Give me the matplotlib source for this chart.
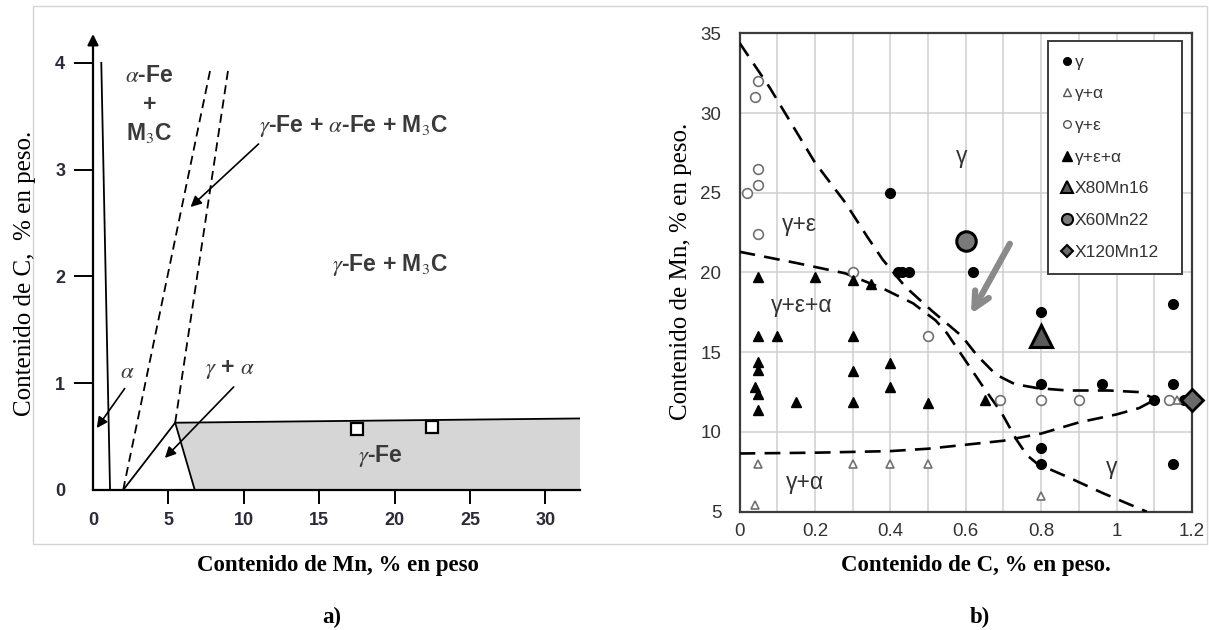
import matplotlib
matplotlib.use("Agg")
from matplotlib import pyplot as plt
from matplotlib.lines import Line2D
from matplotlib.patches import Rectangle

plt.rcParams['mathtext.fontset'] = 'stix'

# ---- panel a): diagrama Fe-Mn-C ----
a_xticks = [0, 5, 10, 15, 20, 25, 30]
a_yticks = [0, 1, 2, 3, 4]
alpha_line_x = [0.55, 1.13]          # limite alpha (linea continua)
alpha_line_y = [4.0, 0.0]
dash1_x = [2.0, 7.8]                 # linea discontinua izquierda
dash1_y = [0.0, 3.95]
dash2_x = [5.45, 9.0]                # linea discontinua derecha
dash2_y = [0.63, 3.97]
ga_x = [2.0, 5.45, 6.75]             # limite gamma + alpha
ga_y = [0.0, 0.63, 0.0]
top_x = [5.45, 32.3]                 # limite superior gamma-Fe
top_y = [0.63, 0.67]
shade_x = [5.45, 32.3, 32.3, 6.75]
shade_y = [0.63, 0.67, 0.0, 0.0]
sq_x = [17.5, 22.5]                  # aceros estudiados
sq_y = [0.57, 0.59]

# ---- panel b): diagrama Mn-C ----
g_x = [0.4, 0.42, 0.43, 0.45, 0.62, 0.8, 0.8, 0.96, 1.15, 1.1, 1.18, 0.8, 0.8, 1.15, 1.15]
g_y = [25, 20, 20, 20, 20, 17.5, 13, 13, 13, 12, 12, 9, 8, 8, 18]
ga_pts_x = [0.05, 0.3, 0.4, 0.5, 0.04, 0.8, 1.16]
ga_pts_y = [8, 8, 8, 8, 5.4, 6, 12]
ge_x = [0.05, 0.04, 0.05, 0.05, 0.02, 0.05, 0.3, 0.5, 0.69, 0.8, 0.9, 1.14]
ge_y = [32, 31, 26.5, 25.5, 25, 22.4, 20, 16, 12, 12, 12, 12]
gea_x = [0.05, 0.2, 0.3, 0.35, 0.05, 0.1, 0.3, 0.05, 0.05, 0.04, 0.05, 0.05, 0.15,
         0.3, 0.3, 0.4, 0.4, 0.5, 0.65]
gea_y = [19.7, 19.7, 19.5, 19.3, 16, 16, 16, 14.4, 13.9, 12.8, 12.4, 11.4, 11.9,
         13.8, 11.9, 14.3, 12.8, 11.8, 12]
x80_x, x80_y = [0.8], [16]
x60_x, x60_y = [0.6], [22]
x120_x, x120_y = [1.2], [12]

curveA_x = [0.0, 0.08, 0.2, 0.28, 0.34, 0.38, 0.44, 0.51, 0.59, 0.63, 0.68, 0.73, 0.79,
            0.87, 0.98, 1.06, 1.1]
curveA_y = [34.4, 31.6, 26.9, 24.4, 22.2, 20.8, 19.1, 17.6, 16.0, 14.8, 13.6, 13.0, 12.75,
            12.6, 12.6, 12.5, 12.1]
curveB_x = [0.0, 0.15, 0.28, 0.38, 0.46, 0.52, 0.55, 0.59, 0.647, 0.695, 0.735, 0.762,
            0.79, 0.868, 0.965, 1.08]
curveB_y = [21.3, 20.6, 19.95, 19.0, 18.07, 17.0, 16.2, 14.8, 12.8, 11.2, 9.5, 8.55,
            8.0, 7.2, 6.15, 5.0]
curveC_x = [0.0, 0.2, 0.4, 0.5, 0.6, 0.7, 0.8, 0.9, 1.0, 1.06, 1.1]
curveC_y = [8.65, 8.7, 8.8, 8.95, 9.2, 9.45, 9.9, 10.6, 11.1, 11.5, 12.0]

b_xticks = [0, 0.2, 0.4, 0.6, 0.8, 1.0, 1.2]
b_xlabels = ['0', '0.2', '0.4', '0.6', '0.8', '1', '1.2']
b_yticks = [5, 10, 15, 20, 25, 30, 35]

W, H = 1209, 630
fig = plt.figure(figsize=(W / 100, H / 100), dpi=100)

# marco gris claro
fig.patches.append(Rectangle((33 / W, (H - 544) / H), (1207 - 33) / W, (544 - 6) / H,
                             transform=fig.transFigure, fill=False,
                             edgecolor='#d4d4d4', lw=1))

# ================= a) =================
ax = fig.add_axes([93 / W, (H - 490) / H, (580 - 93) / W, (490 - 34) / H])
ax.set_xlim(0, 32.3)
ax.set_ylim(0, 4.27)
for s in ['top', 'right', 'left']:
    ax.spines[s].set_visible(False)
ax.spines['bottom'].set_linewidth(1.6)
ax.annotate('', xy=(0, 4.27), xytext=(0, 0), xycoords='data',
            arrowprops=dict(arrowstyle='-|>', color='black', lw=1.6,
                            mutation_scale=16, shrinkA=0, shrinkB=0),
            annotation_clip=False)

ax.fill(shade_x, shade_y, color='#d6d6d6', lw=0, zorder=1)
ax.plot(alpha_line_x, alpha_line_y, color='black', lw=1.3)
ax.plot(dash1_x, dash1_y, color='black', lw=1.3, ls=(0, (5, 3)))
ax.plot(dash2_x, dash2_y, color='black', lw=1.3, ls=(0, (5, 3)))
ax.plot(ga_x, ga_y, color='black', lw=1.3)
ax.plot(top_x, top_y, color='black', lw=1.3)
ax.plot(sq_x, sq_y, 's', ms=9, mfc='white', mec='black', mew=1.6, zorder=5)

ax.set_xticks(a_xticks)
ax.set_yticks(a_yticks)
ax.tick_params(axis='x', direction='out', length=10, width=1.4, pad=6)
ax.tick_params(axis='y', direction='out', length=14, width=1.4, pad=6)
ax.xaxis.get_major_ticks()[0].tick1line.set_visible(False)
ax.yaxis.get_major_ticks()[0].tick1line.set_visible(False)
for lab in ax.get_xticklabels() + ax.get_yticklabels():
    lab.set_family('Liberation Sans')
    lab.set_fontweight('bold')
    lab.set_fontsize(13)
    lab.set_color('#2a2a38')

tkw = dict(family='Liberation Sans', fontweight='bold', fontsize=16.5, color='#3a3a3a',
           ha='center', va='center')
ax.text(3.75, 3.88, r'$\alpha$-Fe', **tkw)
ax.text(3.75, 3.61, '+', **tkw)
ax.text(3.75, 3.34, r'M$_3$C', **tkw)
ax.text(17.3, 3.41, r'$\gamma$-Fe + $\alpha$-Fe + M$_3$C', **tkw)
ax.text(19.7, 2.11, r'$\gamma$-Fe + M$_3$C', **tkw)
ax.text(2.25, 1.11, r'$\alpha$', **tkw)
ax.text(9.1, 1.13, r'$\gamma$ + $\alpha$', **tkw)
ax.text(19.1, 0.32, r'$\gamma$-Fe', **tkw)

akw = dict(arrowstyle='-|>', color='black', lw=1.2, mutation_scale=16,
           shrinkA=0, shrinkB=0)
ax.annotate('', xy=(6.47, 2.65), xytext=(10.98, 3.24), arrowprops=akw)
ax.annotate('', xy=(0.25, 0.58), xytext=(2.1, 0.95), arrowprops=akw,
            annotation_clip=False)
ax.annotate('', xy=(4.77, 0.3), xytext=(9.33, 0.965), arrowprops=akw)

# ================= b) =================
bx = fig.add_axes([739.5 / W, (H - 511.7) / H, 452.5 / W, 478.4 / H])
bx.set_xlim(0, 1.2)
bx.set_ylim(5, 35)
bx.set_xticks([i / 10 for i in range(13)], minor=True)
bx.set_xticks(b_xticks)
bx.set_xticklabels(b_xlabels)
bx.set_yticks(b_yticks)
bx.grid(True, which='both', axis='x', color='#cfcfcf', lw=1.1)
bx.grid(True, which='major', axis='y', color='#cfcfcf', lw=1.1)
bx.set_axisbelow(True)
bx.tick_params(which='both', length=0)
bx.tick_params(axis='x', pad=8)
bx.tick_params(axis='y', pad=13)
for s in bx.spines.values():
    s.set_linewidth(1.6)
    s.set_color('#3c3c3c')
for lab in bx.get_xticklabels() + bx.get_yticklabels():
    lab.set_family('Liberation Sans')
    lab.set_fontsize(13.5)
    lab.set_color('#333333')

dash = (0, (6, 3.5))
for cx, cy in [(curveA_x, curveA_y), (curveB_x, curveB_y), (curveC_x, curveC_y)]:
    bx.plot(cx, cy, color='black', lw=1.9, ls=dash, zorder=3)

bx.plot(g_x, g_y, 'o', ms=7, color='black', ls='none', zorder=4)
bx.plot(ga_pts_x, ga_pts_y, '^', ms=6, mfc='white', mec='#707070', mew=1.2,
        ls='none', zorder=4)
bx.plot(ge_x, ge_y, 'o', ms=7, mfc='white', mec='#707070', mew=1.2,
        ls='none', zorder=4)
bx.plot(gea_x, gea_y, '^', ms=7, color='black', ls='none', zorder=4)
bx.plot(x80_x, x80_y, '^', ms=16, mfc='#5a5a5a', mec='black', mew=2.2,
        ls='none', zorder=5)
bx.plot(x60_x, x60_y, 'o', ms=14, mfc='#7a7a7a', mec='black', mew=2.2,
        ls='none', zorder=5)
bx.plot(x120_x, x120_y, 'D', ms=11, mfc='#6a6a6a', mec='black', mew=2,
        ls='none', zorder=5, clip_on=False)

tb = dict(family='Liberation Sans', fontsize=16.5, color='#333333',
          ha='center', va='center')
bx.text(0.59, 27.3, 'γ', **tb)
bx.text(0.16, 23.0, 'γ+ε', **tb)
bx.text(0.165, 17.9, 'γ+ε+α', **tb)
bx.text(0.174, 6.8, 'γ+α', **tb)
bx.text(0.987, 7.8, 'γ', **tb)

bx.annotate('', xy=(0.614, 17.4), xytext=(0.717, 21.8),
            arrowprops=dict(arrowstyle='->', color='#8a8a8a', lw=4.5,
                            mutation_scale=28, shrinkA=0, shrinkB=0))

leg_handles = [
    Line2D([], [], marker='o', ms=5.5, color='black', ls='none'),
    Line2D([], [], marker='^', ms=5.5, mfc='white', mec='#555555', mew=1, ls='none'),
    Line2D([], [], marker='o', ms=5.5, mfc='white', mec='#555555', mew=1, ls='none'),
    Line2D([], [], marker='^', ms=6.5, color='black', ls='none'),
    Line2D([], [], marker='^', ms=8.5, mfc='#5a5a5a', mec='black', mew=1.5, ls='none'),
    Line2D([], [], marker='o', ms=8, mfc='#7a7a7a', mec='black', mew=1.5, ls='none'),
    Line2D([], [], marker='D', ms=6, mfc='#6a6a6a', mec='black', mew=1.5, ls='none'),
]
leg_labels = ['γ', 'γ+α', 'γ+ε', 'γ+ε+α', 'X80Mn16', 'X60Mn22', 'X120Mn12']
leg = bx.legend(leg_handles, leg_labels, loc='upper left', mode='expand',
                bbox_to_anchor=(0.682, 0.509, 0.295, 0.4755), fancybox=False,
                framealpha=1, edgecolor='#3c3c3c', handlelength=0.6,
                handletextpad=0.15, labelspacing=0.95, borderpad=0.8,
                borderaxespad=0,
                prop={'family': 'Liberation Sans', 'size': 12.5})
leg.get_frame().set_linewidth(1.4)
for t in leg.get_texts():
    t.set_color('#333333')

# ---- etiquetas ----
fig.text(25 / W, 1 - 273 / H, 'Contenido de C,  % en peso.', rotation=90,
         family='Liberation Serif', fontsize=18, ha='center', va='center')
fig.text(681 / W, 1 - 271 / H, 'Contenido de Mn, % en peso.', rotation=90,
         family='Liberation Serif', fontsize=18, ha='center', va='center')
bkw = dict(family='Liberation Serif', fontweight='bold', fontsize=16.5,
           ha='center', va='center')
fig.text(338 / W, 1 - 565 / H, 'Contenido de Mn, % en peso', **bkw)
fig.text(332 / W, 1 - 617 / H, 'a)', **bkw)
fig.text(976 / W, 1 - 565 / H, 'Contenido de C, % en peso.', **bkw)
fig.text(980 / W, 1 - 617 / H, 'b)', **bkw)

fig.savefig('out.png', dpi=100)
